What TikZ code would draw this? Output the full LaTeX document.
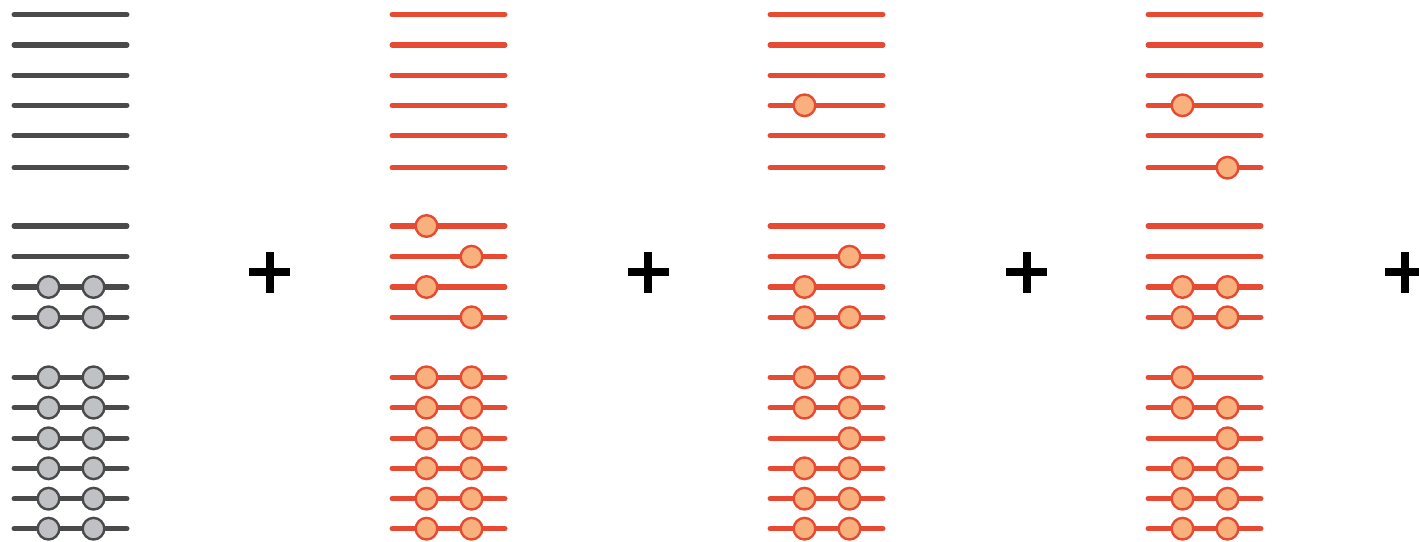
\documentclass[tikz,border=0pt]{standalone}
\definecolor{wireGray}{HTML}{4A4A4A}
\definecolor{beadGray}{HTML}{C0C1C4}
\definecolor{wireRed}{HTML}{E64A33}
\definecolor{beadRed}{HTML}{F8B07C}
\tikzset{
  wire/.style={line width=5.5pt, line cap=round},
  bead/.style={circle, minimum size=21.6pt, inner sep=0pt, line width=2.4pt, draw},
}
\begin{document}
\begin{tikzpicture}[x=1pt,y=-1pt]
\useasboundingbox (0,0) rectangle (1419,541);
% row heights, shared by every column
\foreach \y [count=\r] in {14.7,45,75.3,105.3,135.7,167.7,226,256.7,287,317.3,377.3,407.7,438.3,468.3,498.7,528.7}
  \coordinate (row\r) at (0,\y);
% columns: index / wire colour / bead colour / rows with left bead / rows with right bead
\foreach \k/\wc/\bc/\Lrows/\Rrows in {
  0/wireGray/beadGray/{9,10,11,12,13,14,15,16}/{9,10,11,12,13,14,15,16},
  1/wireRed/beadRed/{7,9,11,12,13,14,15,16}/{8,10,11,12,13,14,15,16},
  2/wireRed/beadRed/{4,9,10,11,12,14,15,16}/{8,10,11,12,13,14,15,16},
  3/wireRed/beadRed/{4,9,10,11,12,14,15,16}/{6,9,10,12,13,14,15,16}}{
  \pgfmathsetmacro\xa{11.5+378*\k}
  \foreach \r in {1,...,16}
    \draw[wire,draw=\wc] ([xshift=\xa pt+2.75pt]row\r) -- ([xshift=\xa pt+115.25pt]row\r);
  \foreach \r in \Lrows
    \node[bead,draw=\wc,fill=\bc] (b\k-\r-L) at ([xshift=\xa pt+37pt]row\r) {};
  \foreach \r in \Rrows
    \node[bead,draw=\wc,fill=\bc] (b\k-\r-R) at ([xshift=\xa pt+82pt]row\r) {};
}
% plus signs between the columns
\foreach \k in {0,1,2,3}{
  \pgfmathsetmacro\cx{269.7+378.5*\k}
  \fill[black] (\cx-20.5,268.4) rectangle (\cx+20.5,276);
  \fill[black] (\cx-3.8,251.7) rectangle (\cx+3.8,292.7);
}
\end{tikzpicture}
\end{document}
